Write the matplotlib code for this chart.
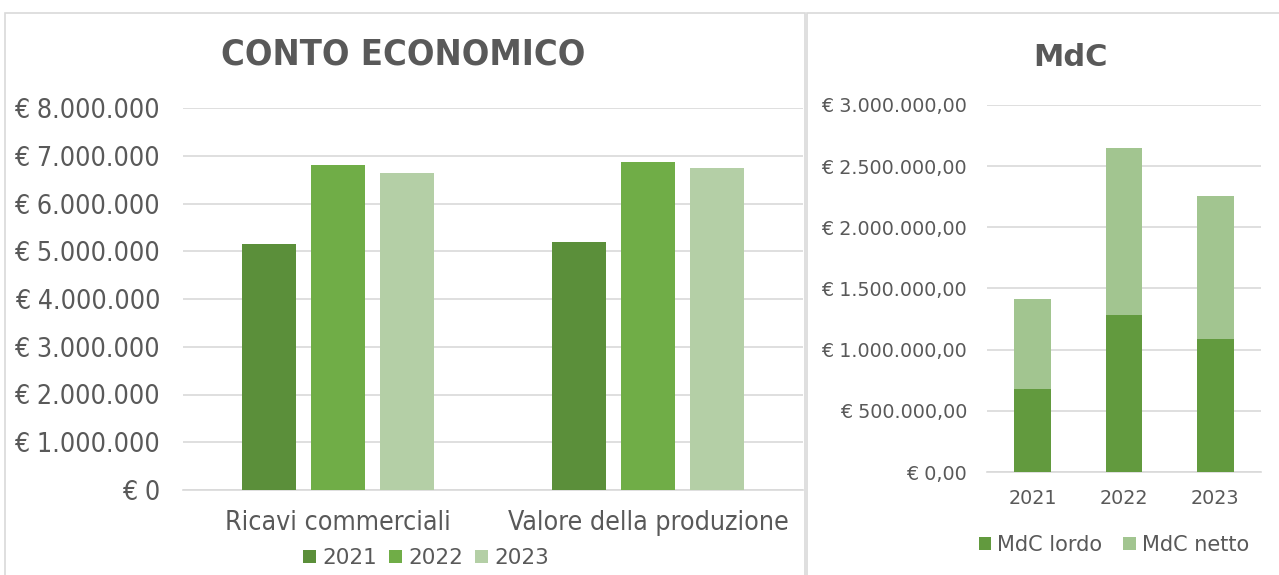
import numpy as np
import matplotlib.pyplot as plt
from matplotlib.patches import Rectangle
from matplotlib.ticker import FuncFormatter

# data
categorie = ['Ricavi commerciali', 'Valore della produzione']
anni = ['2021', '2022', '2023']
ce_2021 = [5150000, 5190000]
ce_2022 = [6810000, 6870000]
ce_2023 = [6630000, 6740000]

mdc_anni = ['2021', '2022', '2023']
mdc_lordo = [676000, 1284000, 1087000]
mdc_netto = [739000, 1365000, 1170000]

grigio = '#595959'
col_ce = ['#5B8F3A', '#70AD47', '#B4CFA6']
col_mdc = ['#629A3E', '#A2C590']

plt.rcParams['font.family'] = 'DejaVu Sans'

fig = plt.figure(figsize=(12.79, 5.75), dpi=100)

# cornici dei due riquadri
fig.patches.append(Rectangle((5/1279, -0.1), 800/1279, 1.1 - 13/575, transform=fig.transFigure,
                             fill=False, edgecolor='#D9D9D9', lw=1.2))
fig.patches.append(Rectangle((807/1279, -0.1), 480/1279, 1.1 - 13/575, transform=fig.transFigure,
                             fill=False, edgecolor='#D9D9D9', lw=1.2))


def euro_int(v, pos):
    return '€ ' + f'{int(round(v)):,}'.replace(',', '.')


def euro_dec(v, pos):
    s = f'{v:,.2f}'
    s = s.replace(',', 'X').replace('.', ',').replace('X', '.')
    return '€ ' + s


# --- CONTO ECONOMICO ---
ax1 = fig.add_axes([183/1279, 85/575, 620/1279, 382/575])
x = np.arange(len(categorie))
w = 0.174
off = 0.222
for i, vals in enumerate([ce_2021, ce_2022, ce_2023]):
    ax1.bar(x + (i - 1) * off, vals, w, color=col_ce[i], label=anni[i], zorder=3)
ax1.set_xlim(-0.5, 1.5)
ax1.set_ylim(0, 8000000)
ax1.set_yticks(np.arange(0, 8000001, 1000000))
ax1.yaxis.set_major_formatter(FuncFormatter(euro_int))
ax1.set_xticks(x)
ax1.set_xticklabels(categorie)
ax1.grid(axis='y', color='#D9D9D9', lw=1.2, zorder=0)
for s in ['top', 'right', 'left']:
    ax1.spines[s].set_visible(False)
ax1.spines['bottom'].set_color('#D9D9D9')
ax1.spines['bottom'].set_linewidth(1.2)
ax1.tick_params(axis='both', length=0, colors=grigio)
ax1.tick_params(axis='y', labelsize=19.2, pad=16.5)
ax1.tick_params(axis='x', labelsize=19.2, pad=14.5)
for t in ax1.get_yticklabels() + ax1.get_xticklabels():
    t.set_fontstretch('condensed')
ax1.set_title('CONTO ECONOMICO', fontsize=26, fontweight='bold', color=grigio,
              fontstretch='condensed', x=(403 - 183) / 620, pad=31)
leg1 = ax1.legend(loc='center', bbox_to_anchor=(426/1279, 17/575), bbox_transform=fig.transFigure,
                  ncol=3, frameon=False, fontsize=15.5, handlelength=0.6, handleheight=0.6,
                  handletextpad=0.3, columnspacing=0.55, labelcolor=grigio)

# --- MdC ---
ax2 = fig.add_axes([987/1279, 103/575, 274/1279, 367/575])
x2 = np.arange(len(mdc_anni))
w2 = 0.405
ax2.bar(x2, mdc_lordo, w2, color=col_mdc[0], label='MdC lordo', zorder=3)
ax2.bar(x2, mdc_netto, w2, bottom=mdc_lordo, color=col_mdc[1], label='MdC netto', zorder=3)
ax2.set_xlim(-0.5, 2.5)
ax2.set_ylim(0, 3000000)
ax2.set_yticks(np.arange(0, 3000001, 500000))
ax2.yaxis.set_major_formatter(FuncFormatter(euro_dec))
ax2.set_xticks(x2)
ax2.set_xticklabels(mdc_anni)
ax2.grid(axis='y', color='#D9D9D9', lw=1.2, zorder=0)
for s in ['top', 'right', 'left']:
    ax2.spines[s].set_visible(False)
ax2.spines['bottom'].set_color('#D9D9D9')
ax2.spines['bottom'].set_linewidth(1.2)
ax2.tick_params(axis='both', length=0, colors=grigio, labelsize=13.8)
ax2.tick_params(axis='y', pad=14.4)
ax2.tick_params(axis='x', pad=12)
ax2.set_title('MdC', fontsize=22, fontweight='bold', color=grigio,
              x=(1070 - 987) / 274, pad=28)
ax2.legend(loc='center', bbox_to_anchor=(1114/1279, 30/575), bbox_transform=fig.transFigure,
           ncol=2, frameon=False, fontsize=15, handlelength=0.6, handleheight=0.6,
           handletextpad=0.3, columnspacing=1.0, labelcolor=grigio)

fig.savefig('out.png', dpi=100)
